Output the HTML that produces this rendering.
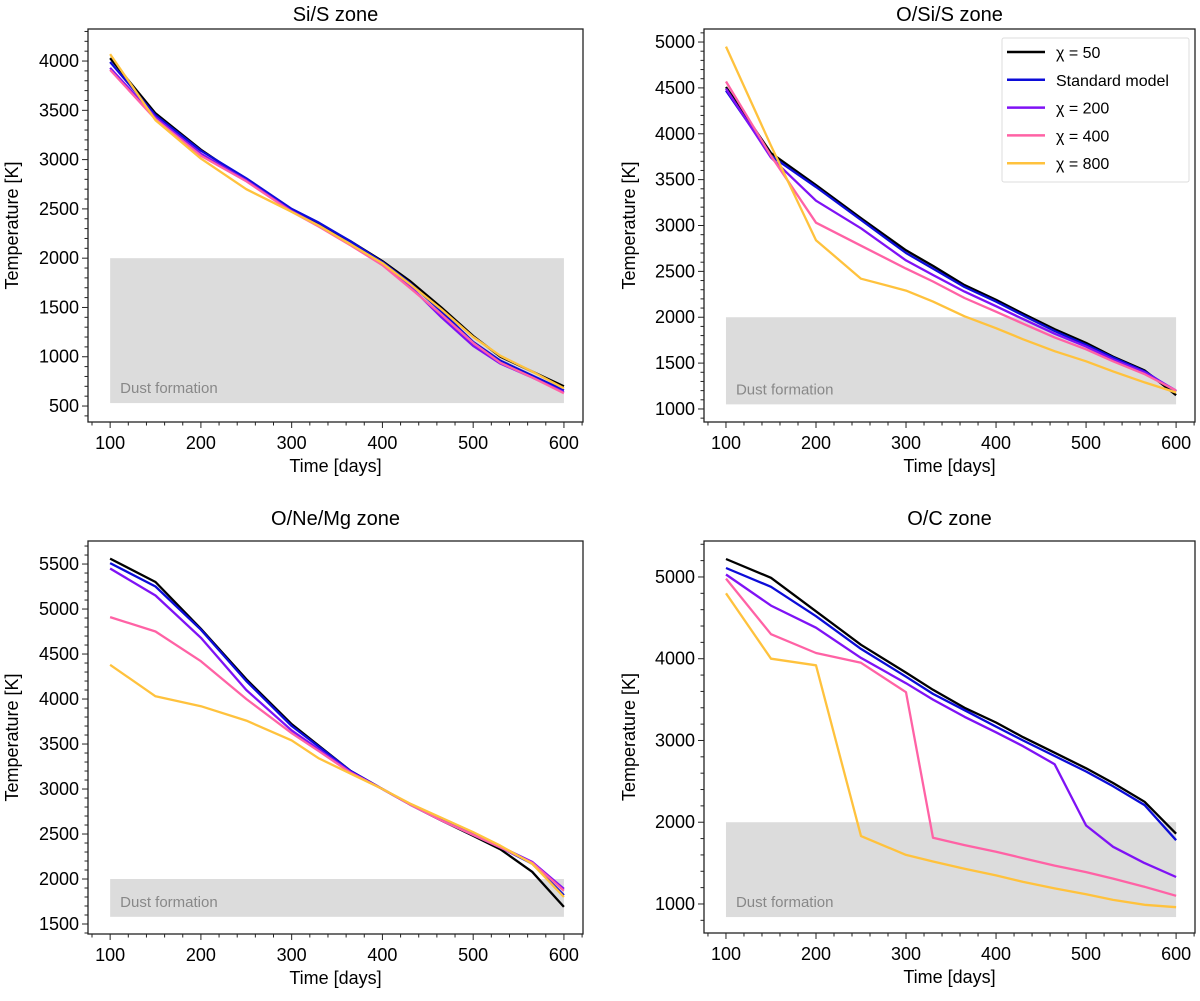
<!DOCTYPE html>
<html><head><meta charset="utf-8"><style>
body{margin:0;background:#fff;width:1200px;height:996px;overflow:hidden}
svg{font-family:"Liberation Sans",sans-serif}
</style></head><body>
<svg id="fig" width="1200" height="996" xmlns="http://www.w3.org/2000/svg"></svg>
<script>
const days=[100,150,200,250,300,330,365,400,430,465,500,530,565,600];
const seriesNames=["χ = 50","Standard model","χ = 200","χ = 400","χ = 800"];
const siS=[[4030,3470,3100,2790,2480,2350,2170,1970,1770,1500,1210,1000,850,700],
[3990,3450,3090,2810,2500,2360,2170,1960,1750,1460,1150,960,810,660],
[3930,3430,3060,2790,2480,2330,2140,1940,1720,1400,1110,930,790,640],
[3910,3410,3040,2780,2470,2320,2130,1930,1700,1430,1140,940,790,630],
[4070,3400,3010,2700,2470,2330,2140,1950,1740,1480,1200,1010,850,680]];
const oSiS=[[4510,3790,3440,3080,2730,2560,2350,2190,2040,1870,1720,1570,1420,1150],
[4470,3760,3420,3060,2700,2530,2330,2170,2020,1850,1700,1560,1410,1190],
[4490,3740,3270,2970,2620,2460,2280,2120,1980,1820,1680,1540,1400,1200],
[4570,3760,3030,2780,2530,2390,2210,2060,1930,1780,1650,1520,1380,1200],
[4950,3870,2840,2420,2290,2170,2010,1880,1760,1630,1520,1410,1290,1180]];
const oNeMg=[[5560,5300,4780,4220,3720,3480,3200,3000,2830,2650,2480,2330,2080,1690],
[5510,5250,4770,4200,3700,3470,3200,3000,2830,2650,2490,2350,2170,1820],
[5450,5150,4680,4100,3650,3440,3190,3000,2830,2660,2500,2360,2190,1890],
[4910,4750,4420,4000,3620,3420,3180,3000,2830,2650,2490,2350,2180,1870],
[4380,4030,3920,3760,3540,3340,3170,3000,2840,2680,2520,2370,2170,1800]];
const oC=[[5220,4990,4580,4170,3830,3620,3400,3220,3040,2850,2660,2480,2250,1860],
[5110,4880,4520,4120,3780,3570,3370,3170,3000,2810,2620,2440,2210,1780],
[5030,4650,4380,4010,3700,3500,3290,3100,2930,2710,1960,1700,1500,1330],
[4980,4300,4070,3950,3590,1810,1720,1640,1560,1470,1390,1310,1210,1100],
[4800,4000,3920,1830,1600,1520,1430,1350,1270,1190,1120,1050,990,960]];
const xTicks=[100,200,300,400,500,600];
const colors=["#000000","#0c0cd8","#7f12f5","#ff62a5","#ffc23d"];
const NS="http://www.w3.org/2000/svg";
const svg=document.getElementById('fig');
function mk(tag,attrs,parent){const e=document.createElementNS(NS,tag);for(const k in attrs)e.setAttribute(k,attrs[k]);(parent||svg).appendChild(e);return e;}
const panels=[
{title:"Si/S zone",data:siS,box:[88,29,583,422],ylim:[338,4325],yt:[500,1000,1500,2000,2500,3000,3500,4000],ymin:100,dust:[530,2000],name:"si-s",tOff:8,yOff:70},
{title:"O/Si/S zone",data:oSiS,box:[704,29,1195,422],ylim:[858,5142],yt:[1000,1500,2000,2500,3000,3500,4000,4500,5000],ymin:100,dust:[1050,2000],name:"o-si-s",legend:true,tOff:8,yOff:69},
{title:"O/Ne/Mg zone",data:oNeMg,box:[88,541,583,934],ylim:[1389,5756],yt:[1500,2000,2500,3000,3500,4000,4500,5000,5500],ymin:100,dust:[1580,2000],name:"o-ne-mg",tOff:16,yOff:70},
{title:"O/C zone",data:oC,box:[704,541,1195,933],ylim:[645,5440],yt:[1000,2000,3000,4000,5000],ymin:200,dust:[840,2000],name:"o-c",tOff:16,yOff:69}];
const xlim=[75.6,621];
panels.forEach(p=>{
 const [L,T,R,B]=p.box;
 const g=mk('g',{});
 
 
 const X=v=>L+(v-xlim[0])/(xlim[1]-xlim[0])*(R-L);
 const Y=v=>B-(v-p.ylim[0])/(p.ylim[1]-p.ylim[0])*(B-T);
 const d=mk('rect',{x:X(100),y:Y(p.dust[1]),width:X(600)-X(100),height:Y(p.dust[0])-Y(p.dust[1]),fill:"#dcdcdc"},g);
 
 
 const dt=mk('text',{x:X(100)+10,y:Y(p.dust[0])-10,'font-size':15,fill:"#888"},g);dt.textContent="Dust formation";
 
 
 p.data.forEach((s,i)=>{
  const pts=s.map((v,j)=>X(days[j]).toFixed(1)+","+Y(v).toFixed(1)).join(" ");
  const pl=mk('polyline',{points:pts,fill:"none",stroke:colors[i],'stroke-width':2.3,'stroke-linejoin':'round'},g);
  
  
 });
 mk('rect',{x:L,y:T,width:R-L,height:B-T,fill:"none",stroke:"#222",'stroke-width':1.3},g);
 for(let v=80;v<=620;v+=20){const x=X(v);const major=xTicks.includes(v);mk('line',{x1:x,x2:x,y1:B,y2:B+(major?6:3.5),stroke:"#222",'stroke-width':1},g);}
 xTicks.forEach(v=>{const t=mk('text',{x:X(v),y:B+27,'font-size':18,'text-anchor':'middle'},g);t.textContent=v;
  
  });
 for(let v=Math.ceil(p.ylim[0]/p.ymin)*p.ymin;v<=p.ylim[1];v+=p.ymin){const major=p.yt.includes(v);const y=Y(v);mk('line',{x1:L,x2:L-(major?6:3.5),y1:y,y2:y,stroke:"#222",'stroke-width':1},g);}
 p.yt.forEach(v=>{const t=mk('text',{x:L-9,y:Y(v)+6,'font-size':18,'text-anchor':'end'},g);t.textContent=v;
  
  });
 const ti=mk('text',{x:(L+R)/2,y:T-p.tOff,'font-size':20,'text-anchor':'middle'},g);ti.textContent=p.title;
 
 
 const xl=mk('text',{x:(L+R)/2,y:B+50,'font-size':18,'text-anchor':'middle'},g);xl.textContent="Time [days]";
 
 
 const yx=L-p.yOff,yy=(T+B)/2;
 const yl=mk('text',{x:yx,y:yy,'font-size':18,'text-anchor':'middle',transform:`rotate(-90 ${yx} ${yy})`},g);yl.textContent="Temperature [K]";
 
 
 if(p.legend){
  const lg=mk('g',{},g);
  
  
  mk('rect',{x:1002,y:38,width:187,height:144,fill:"#fff",stroke:"#ddd",rx:2},lg);
  seriesNames.forEach((n,i)=>{const y=52+i*27.8;
   mk('line',{x1:1007,x2:1045,y1:y,y2:y,stroke:colors[i],'stroke-width':2.5},lg);
   const t=mk('text',{x:1056,y:y+6,'font-size':16},lg);t.textContent=n;
   
   });
 }
});
</script>
</body></html>
